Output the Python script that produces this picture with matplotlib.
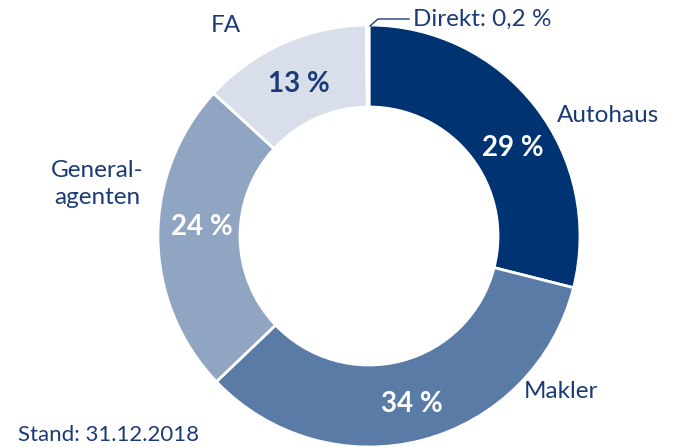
import matplotlib
matplotlib.use("Agg")
import matplotlib.pyplot as plt

# shares in percent, clockwise from the top
channels = ["Autohaus", "Makler", "Generalagenten", "FA", "Direkt"]
shares = [29, 34, 24, 13, 0.2]
share_labels = ["29 %", "34 %", "24 %", "13 %"]
colors = ["#003371", "#5a7ba6", "#8fa5c1", "#d8dfea", "#eef1f6"]

navy = "#1b3b77"
plt.rcParams['font.family'] = ['Lato', 'DejaVu Sans']

fig = plt.figure(figsize=(6.83, 4.47), dpi=100)
ax = fig.add_axes([0, 0, 1, 1])

# inverted y axis -> counterclock=True draws clockwise on screen
ax.pie(shares, colors=colors, startangle=-90, counterclock=True,
       center=(369, 236), radius=211, frame=True,
       wedgeprops=dict(width=82, edgecolor="white", linewidth=2))
ax.set_xlim(0, 683)
ax.set_ylim(447, 0)
ax.set_aspect("equal")
ax.axis("off")

# percentages inside the ring
pct_pos = [(513, 148), (412, 404), (202, 227), (299, 84)]
pct_col = ["white", "white", "white", navy]
for lab, (x, y), c in zip(share_labels, pct_pos, pct_col):
    ax.text(x, y, lab, ha="center", va="center", fontsize=20,
            fontweight="bold", color=c)

# category names
lab_fs = 17.5
ax.text(608, 115, "Autohaus", ha="center", va="center", fontsize=lab_fs, color=navy)
ax.text(561, 392, "Makler", ha="center", va="center", fontsize=lab_fs, color=navy)
ax.text(97, 184, "General-\nagenten", ha="center", va="center", fontsize=lab_fs,
        color=navy, linespacing=1.4)
ax.text(226, 26, "FA", ha="center", va="center", fontsize=lab_fs, color=navy)
ax.text(413, 19, "Direkt: 0,2 %", ha="left", va="center", fontsize=lab_fs, color=navy)
ax.plot([370, 378, 409], [26, 19, 19], color=navy, lw=1)

ax.text(18, 435, "Stand: 31.12.2018", ha="left", va="center", fontsize=16, color=navy)

fig.savefig("out.png", dpi=100)
